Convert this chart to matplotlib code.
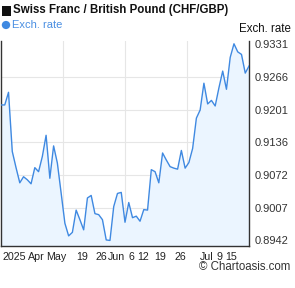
import matplotlib
matplotlib.use('Agg')
import matplotlib.pyplot as plt
from matplotlib.patches import Rectangle, Circle

plt.rcParams['font.family'] = ['Liberation Sans', 'DejaVu Sans']

# CHF/GBP daily closes
rates = [0.9210, 0.9210, 0.9235, 0.9118, 0.9086, 0.9056, 0.9068, 0.9062, 0.9054, 0.9086,
         0.9078, 0.9108, 0.9150, 0.9065, 0.9129, 0.9095, 0.9036, 0.8976, 0.8951, 0.8958,
         0.9002, 0.8983, 0.8963, 0.9026, 0.9031, 0.8995, 0.8993, 0.8983, 0.8943, 0.8942,
         0.9009, 0.9035, 0.9037, 0.8978, 0.9017, 0.8987, 0.8990, 0.8980, 0.9003, 0.9002,
         0.9082, 0.9078, 0.9056, 0.9115, 0.9101, 0.9088, 0.9085, 0.9083, 0.9120, 0.9085,
         0.9096, 0.9124, 0.9184, 0.9200, 0.9253, 0.9212, 0.9219, 0.9208, 0.9244, 0.9277,
         0.9241, 0.9304, 0.9331, 0.9315, 0.9310, 0.9273, 0.9287]
x_labels = ['2025', 'Apr', 'May', '19', '26', 'Jun', '6', '12', '19', '26', 'Jul', '9', '15']
x_label_pos = [3.6, 9.4, 14.8, 21.6, 26.8, 30.7, 34.6, 37.7, 42.4, 47.7, 54.7, 58.2, 61.2]
y_ticks = [0.8942, 0.9007, 0.9072, 0.9136, 0.9201, 0.9266, 0.9331]

line_col = '#3f89e1'
fill_col = '#ebf5ff'
W, H = 295, 288

fig = plt.figure(figsize=(2.95, 2.88), dpi=100)
ax = fig.add_axes([1 / W, 42 / H, 248 / W, 205 / H])

days = list(range(len(rates)))
ax.fill_between(days, rates, 0.8931, color=fill_col, lw=0, zorder=1)
ax.plot(days, rates, color=line_col, lw=1.0, zorder=3)

ax.set_xlim(0, len(rates) - 1)
ax.set_ylim(0.8931, 0.93365)

# grid
for v in y_ticks[1:-1]:
    ax.axhline(v, color='#e6e6e6', lw=0.8, zorder=0)
for q in (0.25, 0.5, 0.75):
    ax.axvline(q * (len(rates) - 1), color='#e6e6e6', lw=0.8, zorder=0)

ax.yaxis.tick_right()
ax.set_yticks(y_ticks)
ax.set_yticklabels(['%.4f' % v for v in y_ticks])
ax.tick_params(axis='y', length=0, pad=4, labelsize=8, labelcolor='#333333')
ax.set_xticks(x_label_pos)
ax.set_xticklabels(x_labels)
ax.tick_params(axis='x', length=0, pad=4.5, labelsize=7.7, labelcolor='#222222')

for s in ('left', 'bottom', 'right'):
    ax.spines[s].set_color('#333333')
    ax.spines[s].set_linewidth(1.0)
ax.spines['top'].set_visible(False)

# title + legend
fig.patches.append(Rectangle((1.5 / W, 1 - 15.5 / H), 9.5 / W, 9.5 / H, transform=fig.transFigure,
                             color='#111111', lw=0))
fig.text(13 / W, 1 - 10.5 / H, 'Swiss Franc / British Pound (CHF/GBP)', fontsize=8.3,
         fontweight='bold', color='#111111', va='center', ha='left')
fig.patches.append(Circle((6 / W, 1 - 25 / H), 4.2 / W, transform=fig.transFigure,
                          color=line_col, lw=0))
fig.text(12 / W, 1 - 25.5 / H, 'Exch. rate', fontsize=8, color='#4a8fe2', va='center', ha='left')
fig.text(291 / W, 1 - 29.5 / H, 'Exch. rate', fontsize=8.3, color='#111111', va='center', ha='right')
fig.text(290 / W, 1 - 267 / H, '\u00a9 Chartoasis.com', fontsize=8.3, color='#333333',
         va='center', ha='right')

fig.savefig('out.png', dpi=100)
